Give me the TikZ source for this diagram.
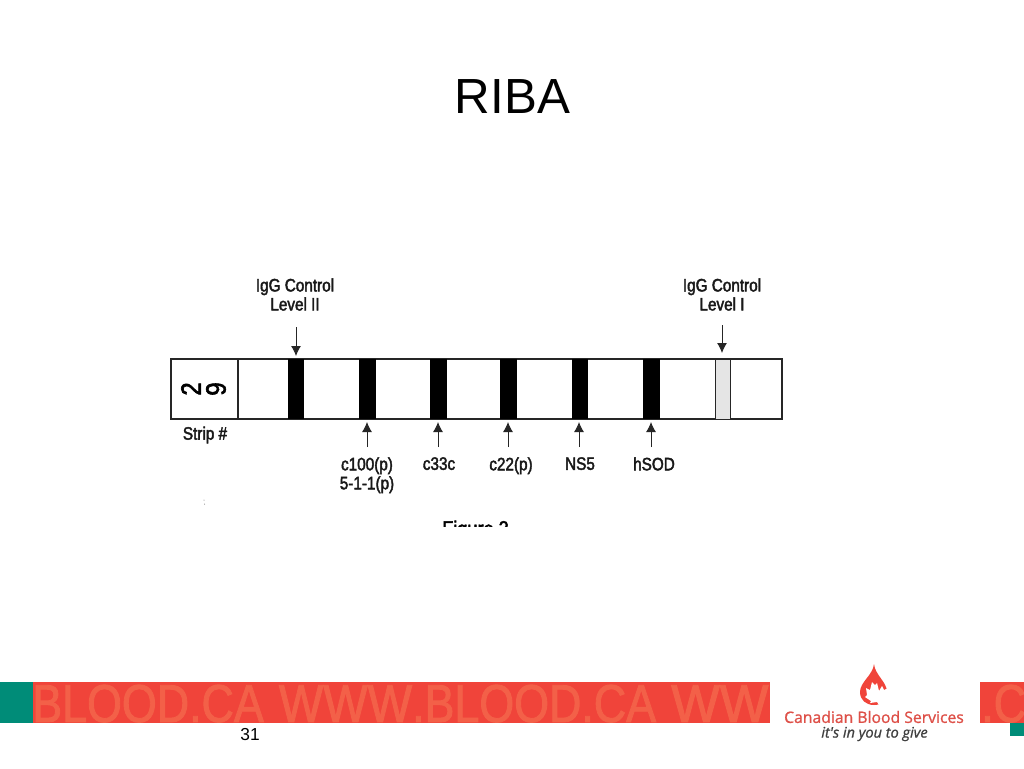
\documentclass[tikz,border=0pt]{standalone}
\usepackage{fontspec}
\setmainfont{Liberation Sans}
\newfontfamily\condfont[FakeStretch=0.84,FakeBold=1.6]{Liberation Sans}
\newfontfamily\scanfont[FakeStretch=0.85,FakeBold=2.2]{Liberation Sans}
\newfontfamily\logofont[FakeBold=1]{Open Sans}
\usetikzlibrary{arrows.meta,shapes.geometric}
\definecolor{cbsred}{RGB}{240,68,58}
\definecolor{cbstext}{RGB}{243,96,72}
\definecolor{cbsteal}{RGB}{0,140,120}
\definecolor{logored}{RGB}{222,80,72}
\tikzset{
 x=0.75pt,y=-0.75pt,
 stripbox/.style={draw=black!85,line width=0.9pt,fill=white,minimum width=#1,minimum height=45pt,inner sep=0,outer sep=0,anchor=west},
 band/.style={fill=black,minimum width=#1,minimum height=45pt,inner sep=0,outer sep=0,anchor=west},
 lab/.style={font=\scanfont\fontsize{13.5}{14.25}\selectfont,inner sep=0,align=center,text=black!90},
 arr/.style={draw=black!85,line width=0.7pt,-{Latex[length=7.5pt,width=7.5pt]}},
}
\begin{document}
\begin{tikzpicture}
\useasboundingbox (0,0) rectangle (1024,768);
\fill[white] (0,0) rectangle (1024,768);
\node[font=\fontsize{37}{40}\selectfont,inner sep=0] (title) at (512.5,97) {RIBA};
% strip
\node[stripbox=50.25pt] (num) at (171,389) {};
\node[stripbox=408pt] (strip) at (238,389) {};
\node[band=12pt] (b1) at (288,389) {};
\node[band=12.75pt] (b2) at (359,389) {};
\node[band=12.75pt] (b3) at (430,389) {};
\node[band=12.75pt] (b4) at (500,389) {};
\node[band=12pt] (b5) at (572,389) {};
\node[band=12.75pt] (b6) at (643,389) {};
\node[stripbox=11.25pt,fill=black!10,line width=0.6pt] (b7) at (715,389) {};
\node[font=\scanfont\fontsize{21}{21}\selectfont,rotate=90,inner sep=0] (d2) at (191,389) {2};
\node[font=\scanfont\fontsize{21}{21}\selectfont,rotate=90,inner sep=0] (d9) at (216,389) {9};
\node[lab] (striplab) at (205,435) {Strip \#};
% labels
\node[lab] (l1) at (295,294.5) {IgG Control\\Level II};
\node[lab] (l7) at (722,294.5) {IgG Control\\Level I};
\node[lab,anchor=north] (l2) at (367,457) {c100(p)\\5-1-1(p)};
\node[lab,anchor=north] (l3) at (439,457) {c33c};
\node[lab,anchor=north] (l4) at (511,457) {c22(p)};
\node[lab,anchor=north] (l5) at (580,457) {NS5};
\node[lab,anchor=north] (l6) at (654,457) {hSOD};
% arrows
\coordinate (t1) at (296,327); \coordinate (h1) at (296,356);
\coordinate (t7) at (722,325); \coordinate (h7) at (722,353);
\draw[arr] (t1) -- (h1);
\draw[arr] (t7) -- (h7);
\foreach \n/\xx in {2/367,3/438,4/508,5/579,6/651}{
 \coordinate (t\n) at (\xx,447); \coordinate (h\n) at (\xx,422);
 \draw[arr] (t\n) -- (h\n);
}
% specks
\fill[black!55] (204,500) circle (0.5);
\fill[black!55] (204.5,504) circle (0.5);
% cut-off caption
\begin{scope}
\clip (430,515) rectangle (530,526);
\node[font=\scanfont\fontsize{16}{17}\selectfont,anchor=base west,inner sep=0] (fig) at (442,536) {Figure 3};
\end{scope}
% footer
\fill[cbsteal] (0,682) rectangle (33,723);
\fill[cbsred] (33,682) rectangle (770,723);
\fill[cbsred] (980,682) rectangle (1024,723);
\fill[cbsteal] (1010,723) rectangle (1024,736);
\begin{scope}
\clip (33,682) rectangle (770,723);
\node[font=\condfont\fontsize{40}{40}\selectfont,text=cbstext,anchor=base west,inner sep=0] (bl) at (32,722) {BLOOD.CA\hspace{2pt} \scalebox{1.05}[1]{WWW}.BLOOD.CA\hspace{2pt} \scalebox{1.15}[1]{WW}};
\end{scope}
\begin{scope}
\clip (980,682) rectangle (1024,723);
\node[font=\condfont\fontsize{40}{40}\selectfont,text=cbstext,anchor=base west,inner sep=0] (br) at (981,722) {.C};
\end{scope}
\node[font=\fontsize{13}{15}\selectfont,inner sep=0] (page) at (250,735) {31};
% logo
\fill[cbsred] (874,664) .. controls (873,675) and (860,682) .. (860,692) .. controls (860,700) and (866,705) .. (874,705) .. controls (882,705) and (887,700) .. (887,692) .. controls (887,682) and (875,675) .. (874,664) -- cycle;
\fill[white] (888,688) -- (884,690) -- (882,686) -- (879,691) -- (877,683) -- (875,685) -- (872,682) -- (870,690) -- (866,688) -- (867,695) -- (865,697) -- (871,701) -- (870,703) -- (877,702) -- (879,705) -- (890,706) -- cycle;
\node[font=\logofont\fontsize{11.8}{12}\selectfont,text=logored,inner sep=0] (logoname) at (874,717) {Canadian Blood Services};
\node[font=\logofont\itshape\fontsize{10.9}{12}\selectfont,text=black!75,inner sep=0] (logotag) at (874.5,734) {it's in you to give};
\end{tikzpicture}
\end{document}
